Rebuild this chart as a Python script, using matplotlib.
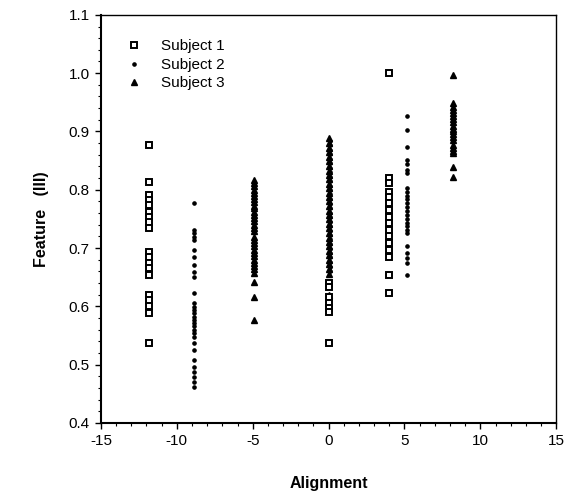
import matplotlib
matplotlib.use("Agg")
import matplotlib.pyplot as plt
from matplotlib.ticker import MultipleLocator

plt.rcParams['font.family'] = ['Liberation Sans', 'DejaVu Sans']

# ---- data ----
# Subject 1 (open squares)
s1_pos = [-11.8, 0.0, 4.0]
s1_col_a = [0.877, 0.814, 0.791, 0.783, 0.774, 0.762, 0.754, 0.745, 0.735,
            0.693, 0.685, 0.675, 0.666, 0.654, 0.620, 0.611, 0.601, 0.589, 0.537]
s1_col_b = [0.640, 0.633, 0.616, 0.605, 0.598, 0.591, 0.537]
s1_col_c = [1.000, 0.820, 0.811, 0.797, 0.788, 0.777, 0.766, 0.754, 0.743,
            0.731, 0.720, 0.708, 0.697, 0.685, 0.654, 0.623]

# Subject 2 (small dots)
s2_pos = [-8.9, 0.1, 5.2]
s2_col_a = [0.778, 0.731, 0.726, 0.719, 0.714, 0.697, 0.685, 0.671, 0.659,
            0.651, 0.623, 0.606, 0.599, 0.594, 0.588, 0.582, 0.577, 0.572,
            0.566, 0.560, 0.554, 0.548, 0.537, 0.525, 0.508, 0.496, 0.488,
            0.479, 0.470, 0.462]
s2_col_b = [0.884, 0.876, 0.868, 0.861, 0.853, 0.846, 0.838, 0.830, 0.822,
            0.815, 0.807, 0.799, 0.792, 0.784, 0.776, 0.769, 0.761, 0.753,
            0.745, 0.738, 0.730, 0.722, 0.715, 0.707, 0.699, 0.692, 0.684,
            0.676, 0.668, 0.661]
s2_col_c = [0.926, 0.903, 0.874, 0.851, 0.845, 0.834, 0.828, 0.803, 0.797,
            0.790, 0.784, 0.778, 0.770, 0.764, 0.757, 0.750, 0.743, 0.737,
            0.731, 0.726, 0.703, 0.691, 0.683, 0.674, 0.654]

# Subject 3 (filled triangles)
s3_pos = [-4.9, 0.0, 8.2]
s3_col_a = [0.817, 0.812, 0.806, 0.800, 0.795, 0.790, 0.784, 0.779, 0.773,
            0.768, 0.762, 0.757, 0.752, 0.746, 0.740, 0.735, 0.729, 0.719,
            0.714, 0.708, 0.703, 0.697, 0.692, 0.686, 0.680, 0.675, 0.670,
            0.664, 0.658, 0.642, 0.616, 0.577]
s3_col_b = [0.889, 0.880, 0.872, 0.864, 0.857, 0.849, 0.841, 0.833, 0.826,
            0.818, 0.810, 0.803, 0.795, 0.787, 0.780, 0.772, 0.764, 0.757,
            0.749, 0.741, 0.734, 0.726, 0.718, 0.711, 0.703, 0.695, 0.688,
            0.680, 0.672, 0.664, 0.655, 0.620]
s3_col_c = [0.997, 0.948, 0.942, 0.937, 0.932, 0.926, 0.921, 0.916, 0.910,
            0.905, 0.900, 0.895, 0.890, 0.886, 0.877, 0.872, 0.867, 0.863,
            0.839, 0.822]

labels = ["Subject 1", "Subject 2", "Subject 3"]
x_ticks = [-15, -10, -5, 0, 5, 10, 15]
y_ticks = [0.4, 0.5, 0.6, 0.7, 0.8, 0.9, 1.0, 1.1]


def expand(positions, cols):
    xs, ys = [], []
    for p, c in zip(positions, cols):
        xs += [p] * len(c)
        ys += list(c)
    return xs, ys


fig = plt.figure(figsize=(5.67, 4.95), dpi=100)
ax = fig.add_axes([0.178, 0.1455, 0.803, 0.8245])

x1, y1 = expand(s1_pos, [s1_col_a, s1_col_b, s1_col_c])
x2, y2 = expand(s2_pos, [s2_col_a, s2_col_b, s2_col_c])
x3, y3 = expand(s3_pos, [s3_col_a, s3_col_b, s3_col_c])

ax.plot(x3, y3, linestyle='none', marker='^', markersize=4.5, color='black',
        label=labels[2], zorder=3)
ax.plot(x2, y2, linestyle='none', marker='o', markersize=2.3, color='black',
        label=labels[1], zorder=4)
ax.plot(x1, y1, linestyle='none', marker='s', markersize=4.3,
        markerfacecolor='white', markeredgecolor='black', markeredgewidth=1.4,
        label=labels[0], zorder=5)

ax.set_xlim(-15, 15)
ax.set_ylim(0.4, 1.1)
ax.set_xticks(x_ticks)
ax.set_xticklabels([str(v) for v in x_ticks])
ax.set_yticks(y_ticks)
ax.set_yticklabels([f"{v:.1f}" for v in y_ticks])
ax.xaxis.set_minor_locator(MultipleLocator(1))
ax.yaxis.set_minor_locator(MultipleLocator(0.02))
ax.tick_params(axis='both', which='major', direction='out', length=4,
               width=1, labelsize=11, top=False, right=False, pad=4)
ax.tick_params(axis='both', which='minor', direction='out', length=2,
               width=0.8, top=False, right=False)
for s in ax.spines.values():
    s.set_linewidth(1.0)
ax.spines['left'].set_linewidth(1.5)
ax.spines['bottom'].set_linewidth(1.5)

ax.set_xlabel("Alignment", fontsize=11.5, fontweight='bold', labelpad=20)
ax.set_ylabel("Feature   (III)", fontsize=11.5, fontweight='bold', labelpad=14)

h, l = ax.get_legend_handles_labels()
order = [2, 1, 0]
ax.legend([h[i] for i in order], [l[i] for i in order], loc='upper left',
          bbox_to_anchor=(0.035, 0.955), frameon=False, fontsize=11,
          handletextpad=1.0, labelspacing=0.3, borderaxespad=0,
          handlelength=1.5)

fig.savefig("out.png", dpi=100)
